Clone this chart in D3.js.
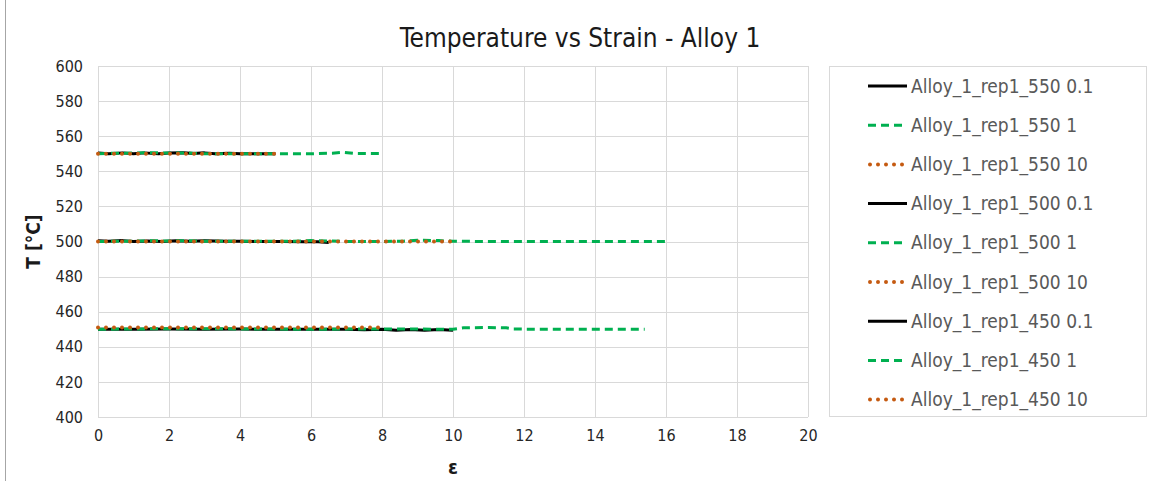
<!DOCTYPE html>
<html>
<head>
<meta charset="utf-8">
<script src="https://cdn.jsdelivr.net/npm/d3@7"></script>
<style>
  body { margin: 0; background: #fff; }
  text { font-family: "DejaVu Sans Condensed", "Liberation Sans Narrow", Roboto, sans-serif; }
  .grid line { stroke: #d9d9d9; stroke-width: 1; }
  .axis path, .axis line { display: none; }
  .axis text { fill: #262626; font-size: 16px; }
</style>
</head>
<body>
<svg id="chart"></svg>
<script>
// series names and styles (keys into style table)
const seriesNames = [
  "Alloy_1_rep1_550 0.1", "Alloy_1_rep1_550 1", "Alloy_1_rep1_550 10",
  "Alloy_1_rep1_500 0.1", "Alloy_1_rep1_500 1", "Alloy_1_rep1_500 10",
  "Alloy_1_rep1_450 0.1", "Alloy_1_rep1_450 1", "Alloy_1_rep1_450 10"
];
const seriesKinds = ["solid", "dash", "dot", "solid", "dash", "dot", "solid", "dash", "dot"];

// strain / temperature values
const strain550_01 = [0, 0.3, 0.7, 1.0, 1.3, 1.7, 2.0, 2.4, 2.7, 3.0, 3.3, 3.7, 4.0, 4.4, 5.0];
const temp550_01   = [550.4, 550, 550.5, 550, 550.5, 550, 550.4, 550.6, 550.2, 550.5, 550, 550.3, 550, 550, 550];
const strain550_1  = [0, 0.5, 1.0, 1.5, 2.0, 2.5, 3.0, 4.0, 5.0, 6.0, 6.6, 6.9, 7.2, 8.0];
const temp550_1    = [550, 550.3, 550.4, 550.6, 550.4, 550.5, 550, 550, 550, 550, 550.3, 550.8, 550.2, 550.1];
const strain550_10 = [0, 1, 2, 3, 4, 5];
const temp550_10   = [550, 550, 550, 550, 550, 550];

const strain500_01 = [0, 0.3, 0.7, 1.0, 1.4, 1.8, 2.2, 2.6, 3.0, 3.6, 4.0, 4.6, 5.2, 5.8, 6.2, 6.5];
const temp500_01   = [500.4, 500.2, 500.5, 500, 500.3, 500, 500.4, 500.2, 500.4, 500.1, 500.2, 500, 500, 499.8, 499.8, 499.5];
const strain500_1  = [0, 1.0, 1.5, 2.0, 2.5, 3.0, 5.5, 6.0, 6.5, 7.0, 8.0, 8.6, 9.0, 9.6, 10.0, 12, 14, 16];
const temp500_1    = [500, 500.2, 500.4, 500.3, 500.5, 500.2, 500.1, 500.5, 500.3, 500, 500, 500.2, 500.7, 500.5, 500.1, 500, 500, 500];
const strain500_10 = [0, 2, 4, 6, 8, 10];
const temp500_10   = [500, 500, 500, 500, 500, 500];

const strain450_01 = [0, 1, 2, 3, 4, 5, 6, 7, 7.5, 8.0, 8.4, 8.8, 9.2, 9.6, 10.0];
const temp450_01   = [450, 450, 450.2, 450, 450.1, 450, 450, 450, 449.7, 450, 449.5, 449.9, 449.4, 449.9, 449.5];
const strain450_1  = [0, 2, 4, 6, 8, 10, 10.3, 11.0, 11.5, 11.7, 13, 15.4];
const temp450_1    = [450, 450.3, 450.2, 450, 450.2, 450, 450.8, 451, 450.8, 450.1, 450, 450];
const strain450_10 = [0, 2, 4, 6, 8];
const temp450_10   = [451, 451, 451, 451, 451];

const strainSets = [strain550_01, strain550_1, strain550_10, strain500_01, strain500_1, strain500_10, strain450_01, strain450_1, strain450_10];
const tempSets = [temp550_01, temp550_1, temp550_10, temp500_01, temp500_1, temp500_10, temp450_01, temp450_1, temp450_10];

const xTicks = [0, 2, 4, 6, 8, 10, 12, 14, 16, 18, 20];
const yTicks = [400, 420, 440, 460, 480, 500, 520, 540, 560, 580, 600];

const width = 1151, height = 481;
const margin = {top: 66, left: 98, right: 343, bottom: 64};
const plotW = width - margin.left - margin.right;
const plotH = height - margin.top - margin.bottom;

const styles = {
  solid: {color: "#000000", width: 3, dash: null, cap: "butt"},
  dash:  {color: "#00b050", width: 3, dash: "8,5", cap: "butt"},
  dot:   {color: "#c55a11", width: 4, dash: "0,8", cap: "round"}
};

const svg = d3.select("#chart").attr("width", width).attr("height", height);

// outer frame line on the left
svg.append("line")
  .attr("x1", 5.5).attr("x2", 5.5).attr("y1", 0).attr("y2", height)
  .attr("stroke", "#a6a6a6").attr("stroke-width", 1);

const xScale = d3.scaleLinear().domain([0, 20]).range([0, plotW]);
const yScale = d3.scaleLinear().domain([400, 600]).range([plotH, 0]);

const chart = svg.append("g").attr("transform", `translate(${margin.left},${margin.top})`);

// gridlines
chart.append("g").attr("class", "grid")
  .selectAll("line.h").data(yTicks).enter().append("line")
  .attr("x1", 0).attr("x2", plotW)
  .attr("y1", d => Math.round(yScale(d)) + 0.5).attr("y2", d => Math.round(yScale(d)) + 0.5);
chart.append("g").attr("class", "grid")
  .selectAll("line.v").data(xTicks).enter().append("line")
  .attr("y1", 0).attr("y2", plotH)
  .attr("x1", d => Math.round(xScale(d)) + 0.5).attr("x2", d => Math.round(xScale(d)) + 0.5);

// axes
chart.append("g").attr("class", "axis")
  .attr("transform", `translate(0,${plotH})`)
  .call(d3.axisBottom(xScale).tickValues(xTicks).tickSize(0).tickPadding(13));
chart.append("g").attr("class", "axis")
  .call(d3.axisLeft(yScale).tickValues(yTicks).tickSize(0).tickPadding(15));

// lines
const line = d3.line().x(d => xScale(d[0])).y(d => yScale(d[1]));
seriesNames.forEach((name, i) => {
  const st = styles[seriesKinds[i]];
  const pts = strainSets[i].map((s, j) => [s, tempSets[i][j]]);
  chart.append("path")
    .datum(pts)
    .attr("d", line)
    .attr("fill", "none")
    .attr("stroke", st.color)
    .attr("stroke-width", st.width)
    .attr("stroke-linecap", st.cap)
    .attr("stroke-linejoin", "round")
    .attr("stroke-dasharray", st.dash);
});

// title and axis titles
svg.append("text")
  .attr("x", 580).attr("y", 47)
  .attr("text-anchor", "middle")
  .style("font-size", "26px").style("fill", "#1a1a1a")
  .text("Temperature vs Strain - Alloy 1");

svg.append("text")
  .attr("transform", `translate(40,${margin.top + plotH / 2}) rotate(-90)`)
  .attr("text-anchor", "middle")
  .style("font-size", "19px").style("font-weight", "bold").style("fill", "#1a1a1a")
  .text("T [°C]");

svg.append("text")
  .attr("x", margin.left + plotW / 2).attr("y", 474)
  .attr("text-anchor", "middle")
  .style("font-size", "20px").style("font-weight", "bold").style("fill", "#1a1a1a")
  .text("ε");

// legend
const legend = svg.append("g");
legend.append("rect")
  .attr("x", 829.5).attr("y", 66.5).attr("width", 317).attr("height", 350)
  .attr("fill", "#fff").attr("stroke", "#d9d9d9");

const rows = legend.selectAll("g.row").data(seriesNames).enter().append("g")
  .attr("transform", (d, i) => `translate(0,${86 + i * 39.2})`);
rows.append("line")
  .attr("x1", d => styles[seriesKinds[seriesNames.indexOf(d)]].cap === "round" ? 870 : 868)
  .attr("x2", 907).attr("y1", 0).attr("y2", 0)
  .attr("stroke", d => styles[seriesKinds[seriesNames.indexOf(d)]].color)
  .attr("stroke-width", d => styles[seriesKinds[seriesNames.indexOf(d)]].width)
  .attr("stroke-linecap", d => styles[seriesKinds[seriesNames.indexOf(d)]].cap)
  .attr("stroke-dasharray", d => styles[seriesKinds[seriesNames.indexOf(d)]].dash);
rows.append("text")
  .attr("x", 911).attr("y", 0).attr("dy", "0.35em")
  .style("font-size", "19px").style("fill", "#595959")
  .text(d => d);
</script>
</body>
</html>
